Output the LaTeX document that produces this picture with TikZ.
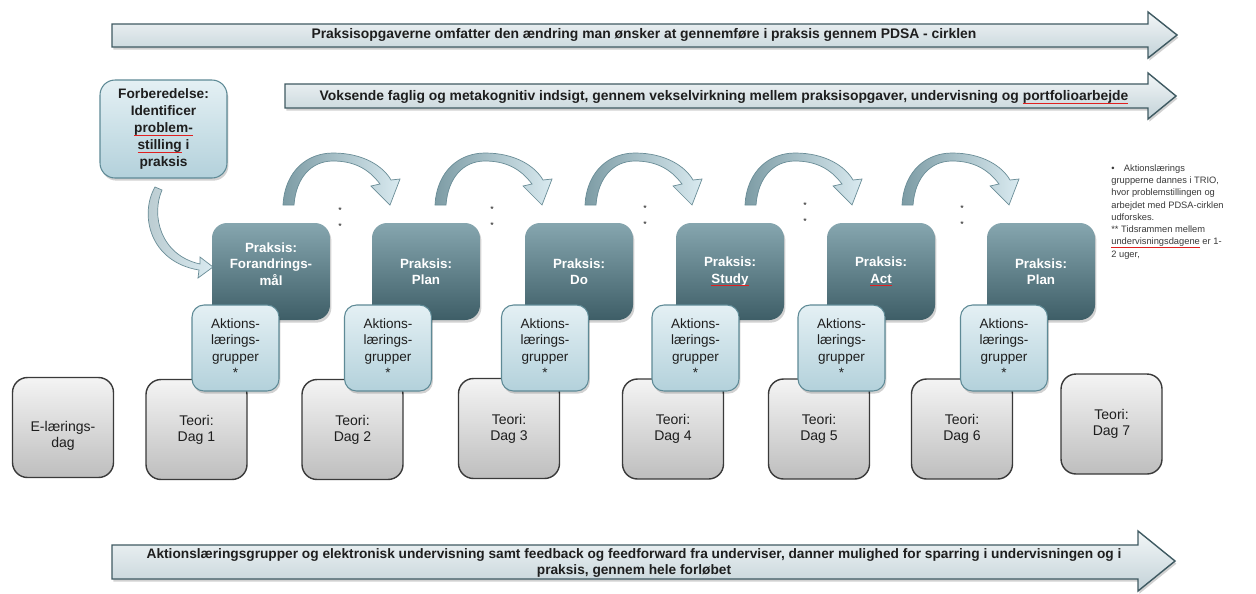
\documentclass[tikz,border=0pt]{standalone}
\usepackage{fontspec}
\setmainfont{Liberation Sans}
\usetikzlibrary{shadows}
\definecolor{pkTop}{HTML}{86A6AF}
\definecolor{pkBot}{HTML}{3E5E67}
\definecolor{alTop}{HTML}{E4F0F4}
\definecolor{alBot}{HTML}{B3D1DB}
\definecolor{alLine}{HTML}{5E8A96}
\definecolor{thTop}{HTML}{F4F4F4}
\definecolor{thBot}{HTML}{BEBEBE}
\definecolor{thLine}{HTML}{3A3A3A}
\definecolor{arTop}{HTML}{F2F6F7}
\definecolor{arBot}{HTML}{C3D2D8}
\definecolor{arLine}{HTML}{3F5A62}
\definecolor{txt}{HTML}{1E1E1E}
\definecolor{notetxt}{HTML}{3A3A3A}
\definecolor{cvDark}{HTML}{7D9CA5}
\definecolor{cvLight}{HTML}{D9EAF0}
\definecolor{cvLine}{HTML}{6A8D97}
\definecolor{spellred}{HTML}{E02020}
\newsavebox{\splbox}
\newcommand{\spl}[2]{\leavevmode\sbox{\splbox}{\textcolor{#1}{#2}}\usebox{\splbox}\llap{\raisebox{-1.8pt}{\textcolor{spellred}{\rule{\wd\splbox}{0.55pt}}}}}
\begin{document}
\begin{tikzpicture}[x=0.02cm,y=-0.02cm,
  softshadow/.style={drop shadow={shadow xshift=0.8pt,shadow yshift=-1.5pt,opacity=0.18,fill=black}},
  praksis/.style={rounded corners=0.3cm, top color=pkTop, bottom color=pkBot, text=white,
    font=\bfseries\fontsize{7.6}{9.4}\selectfont, align=center, minimum width=2.16cm,
    minimum height=1.94cm, inner sep=0pt, softshadow},
  aktion/.style={draw=alLine, line width=0.6pt, rounded corners=0.24cm, top color=alTop,
    bottom color=alBot, text=txt, font=\fontsize{7.7}{9.4}\selectfont, align=center,
    minimum width=1.74cm, minimum height=1.72cm, inner sep=0pt, softshadow},
  teori/.style={draw=thLine, line width=0.8pt, rounded corners=0.3cm, top color=thTop,
    bottom color=thBot, text=txt, font=\fontsize{8}{9.1}\selectfont, align=center,
    minimum width=2.02cm, minimum height=2cm, inner sep=0pt},
  bigarrow/.style={draw=arLine, line width=0.8pt, top color=arTop, bottom color=arBot, softshadow},
  arrowtext/.style={text=txt, font=\bfseries\fontsize{7.9}{9.2}\selectfont, align=center, inner sep=0pt},
  curve/.style={draw=cvLine, line width=0.4pt, left color=cvDark, right color=cvLight},
  star/.style={font=\fontsize{5}{5}\selectfont, text=txt, inner sep=0pt}
]
\useasboundingbox (0,0) rectangle (1256,593);
\fill[white] (0,0) rectangle (1256,593);

% big arrows
\path[bigarrow] (112,24) -- (1148,24) -- (1148,12) -- (1177,35) -- (1148,58) -- (1148,47) -- (112,47) -- cycle;
\path[bigarrow] (285,84) -- (1148,84) -- (1148,73) -- (1176,96) -- (1148,119) -- (1148,108) -- (285,108) -- cycle;
\path[bigarrow] (112,545) -- (1138,545) -- (1138,531) -- (1175,561) -- (1138,591) -- (1138,579) -- (112,579) -- cycle;

\node[arrowtext] (t1) at (644,35) {Praksisopgaverne omfatter den ændring man ønsker at gennemføre i praksis gennem PDSA - cirklen};
\node[arrowtext] (t2) at (724,97) {Voksende faglig og metakognitiv indsigt, gennem vekselvirkning mellem praksisopgaver, undervisning og \spl{txt}{portfolioarbejde}};
\node[arrowtext, font=\bfseries\fontsize{7.8}{9.1}\selectfont] (t3) at (634,563) {Aktionslæringsgrupper og elektronisk undervisning samt feedback og feedforward fra underviser, danner mulighed for sparring i undervisningen og i\\praksis, gennem hele forløbet};

% preparation box and its arrow
\node[aktion, font=\bfseries\fontsize{7.8}{9.6}\selectfont, minimum width=2.54cm, minimum height=1.96cm, rounded corners=0.3cm] (prep) at (163.5,129) {Forberedelse:\\Identificer\\\spl{txt}{problem-}\\\spl{txt}{stilling} i\\praksis};
\path[draw=cvLine, line width=0.4pt, left color=cvDark!55, right color=cvLight] (155,187) .. controls (139,215) and (150,262) .. (199,270) -- (198,278) -- (213,267) -- (200,257) -- (200,264) .. controls (160,255) and (151,215) .. (162,190) -- cycle;

% theory boxes
\node[teori] (e) at (63,427.5) {};
\node[text=txt, font=\fontsize{8}{9.1}\selectfont, align=center, inner sep=0pt] (et) at (63,436) {E-lærings-\\dag};
\node[teori] (d1) at (196.5,429.5) {Teori:\\Dag 1};
\node[teori] (d2) at (352.5,429.5) {Teori:\\Dag 2};
\node[teori] (d3) at (509,428.5) {Teori:\\Dag 3};
\node[teori] (d4) at (673,429) {Teori:\\Dag 4};
\node[teori] (d5) at (819,429) {Teori:\\Dag 5};
\node[teori] (d6) at (962,429) {Teori:\\Dag 6};
\node[teori] (d7) at (1111.5,424) {Teori:\\Dag 7};

% practice boxes
\node[praksis, minimum width=2.36cm] (p1) at (271,271.5) {};
\node[text=white, font=\bfseries\fontsize{7.6}{9.4}\selectfont, align=center, inner sep=0pt] (p1t) at (271,264) {Praksis:\\Forandrings-\\mål};
\node[praksis] (p2) at (426,271.5) {Praksis:\\Plan};
\node[praksis] (p3) at (579,271.5) {Praksis:\\Do};
\node[praksis] (p4) at (730,271.5) {Praksis:\\\spl{white}{Study}};
\node[praksis] (p5) at (881,271.5) {Praksis:\\\spl{white}{Act}};
\node[praksis] (p6) at (1041,271.5) {Praksis:\\Plan};

% action learning boxes
\foreach \n/\x in {1/235.5, 2/388, 3/545, 4/695.5, 5/841.5, 6/1004}{
  \node[aktion] (a\n) at (\x,348) {Aktions-\\lærings-\\grupper\\*};
}

% curved arrows between practice boxes
\foreach \b in {283,435,585,745,902}{
  \path[curve] (\b,205) .. controls (\b+2,170) and (\b+25,153) .. (\b+50,153)
    .. controls (\b+80,153) and (\b+100,166) .. (\b+108,180) -- (\b+117,179) -- (\b+107,205)
    -- (\b+88,186) -- (\b+97,184) .. controls (\b+85,168) and (\b+70,161) .. (\b+50,161)
    .. controls (\b+28,161) and (\b+13,178) .. (\b+11,205) -- cycle;
}
\foreach \i/\x/\y in {1/340/210, 2/492/209, 3/645/208, 4/805/205, 5/962/208}{
  \node[star] (s\i a) at (\x,\y) {*};
  \node[star] (s\i b) at (\x,\y+16) {*};
}

% note
\node[anchor=north west, align=left, font=\fontsize{5.3}{7}\selectfont, text=notetxt, inner sep=0pt] (note) at (1111,164)
 {\textbullet\hspace{1em}Aktionslærings\\grupperne dannes i TRIO,\\hvor problemstillingen og\\arbejdet med PDSA-cirklen\\udforskes.\\** Tidsrammen mellem\\\spl{notetxt}{undervisningsdagene} er 1-\\2 uger,};
\end{tikzpicture}
\end{document}
